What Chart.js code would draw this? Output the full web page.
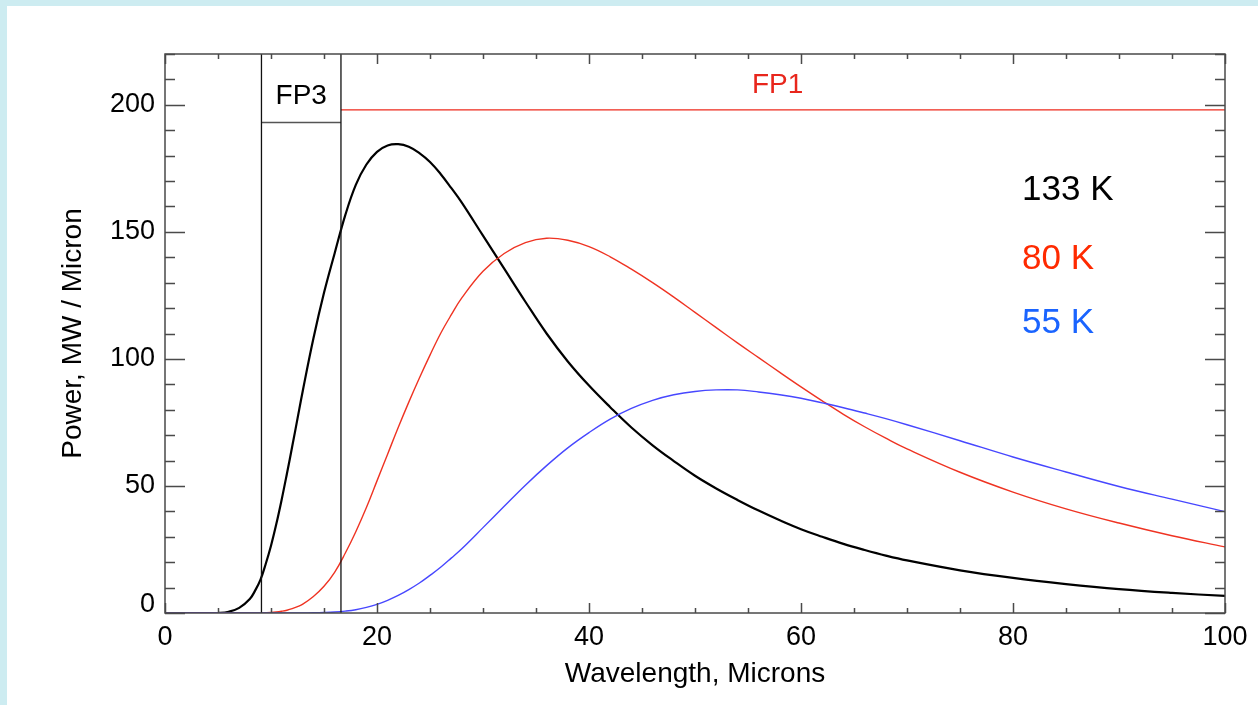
<!DOCTYPE html>
<html><head><meta charset="utf-8">
<script src="https://cdn.jsdelivr.net/npm/chart.js@4.4.1/dist/chart.umd.min.js"></script>
<style>
html,body{margin:0;padding:0;background:rgb(205,236,241);width:1258px;height:705px;overflow:hidden;}
#panel{position:absolute;left:7px;top:6px;width:1251px;height:699px;background:#fff;}
canvas{display:block;}
</style></head><body>
<div id="panel"><canvas id="c" width="1251" height="699"></canvas></div>
<script>
// Wavelength (microns) sample points
const wavelengths = [0,2,4,5,6,7,8,
  8.5,9,9.5,10,10.5,11,11.5,12,12.5,13,
  14,15,16,17,18,19,20,21,22,23,24,25,26,27,
  28,30,32,34,36,38,40,42,44,46,48,50,52,54,56,58,60,62,64,66,68,70,
  75,80,85,90,95,100];
// Power, MW / micron
const power133K = [0,0,0,0.05,0.5,2,5.5,
  8.8,13,19.3,26.5,35,44.5,54.8,65.5,76.5,87.5,
  108,126,141.5,156.5,168.5,176.5,181.5,184,184.5,183.5,181,177.5,172.8,167.3,
  161.5,148.5,135.5,122.5,110,99,89.5,81,73,66,59.8,54,49,44.5,40.3,36.5,33,30,27.2,24.8,22.6,20.7,
  16.8,13.8,11.4,9.4,7.9,6.7];
const power80K = [0,0,0,0,0,0,0,
  0.02,0.05,0.1,0.2,0.4,0.7,1.1,1.7,2.5,3.5,
  6.5,10.5,16,23.5,32,41.5,52,62.5,73,83,92.5,101.5,110,117.3,
  124,134.5,141.5,145.8,147.5,146.7,144.2,140.2,135.3,130,124.3,118.3,112.3,106.3,100.5,94.7,89,83.5,78.2,73.3,68.8,64.6,
  55.4,47.6,41,35.4,30.4,26];
const power55K = [0,0,0,0,0,0,0,
  0,0,0,0,0,0,0,0,0,0.02,
  0.08,0.2,0.4,0.75,1.3,2.2,3.4,5,6.9,9.2,11.8,14.8,18,21.6,
  25.3,33.6,42,50.3,58,65,71,76.3,80.5,83.7,85.9,87.2,87.8,87.8,87,85.9,84.5,82.7,80.8,78.7,76.5,74.1,
  67.8,61.4,55.5,49.8,44.8,39.9];
const seriesLabels = ['133 K','80 K','55 K'];
const xTickLabels = ['0','20','40','60','80','100'];
const yTickLabels = ['0','50','100','150','200'];
const xRange = [0,100];
const yRange = [0,220];
// Focal plane bands
const bandLabels = ['FP3','FP1'];
const fpEdges = [9.1,16.6];
const fp3Level = 193;
const fp1Level = 198;

const FONT = '"Liberation Sans", Arial, Helvetica, sans-serif';
const toPts = (ys) => wavelengths.map((x,i)=>({x:x,y:ys[i]}));

const overlay = {
  id:'overlay',
  afterDatasetsDraw(chart){
    const ctx = chart.ctx, xs = chart.scales.x, ys = chart.scales.y, a = chart.chartArea;
    ctx.save();
    ctx.strokeStyle = '#4a4a4a';
    ctx.lineWidth = 1.5;
    ctx.beginPath();
    for (let v = xRange[0]; v <= xRange[1]; v += 5) {
      const px = Math.round(xs.getPixelForValue(v)) + 0.5;
      const len = (v % 20 === 0) ? 10 : 5;
      ctx.moveTo(px, a.bottom); ctx.lineTo(px, a.bottom - len);
      ctx.moveTo(px, a.top); ctx.lineTo(px, a.top + len);
    }
    for (let v = yRange[0]; v <= yRange[1]; v += 10) {
      const py = Math.round(ys.getPixelForValue(v)) + 0.5;
      const len = (v % 50 === 0) ? 20 : 10;
      ctx.moveTo(a.left, py); ctx.lineTo(a.left + len, py);
      ctx.moveTo(a.right, py); ctx.lineTo(a.right - len, py);
    }
    ctx.stroke();
    ctx.strokeRect(a.left, a.top, a.right - a.left, a.bottom - a.top);

    ctx.textBaseline = 'middle';
    ctx.font = '28px ' + FONT;
    ctx.textAlign = 'center';
    ctx.fillStyle = '#000';
    ctx.fillText(bandLabels[0], xs.getPixelForValue((fpEdges[0]+fpEdges[1])/2), ys.getPixelForValue(203.5));
    ctx.fillStyle = '#e8261c';
    ctx.fillText(bandLabels[1], xs.getPixelForValue(57.8), ys.getPixelForValue(207.5));

    ctx.font = '35px ' + FONT;
    ctx.textAlign = 'left';
    const cols = ['#000000','#ff2a00','#1a64ff'];
    const lvls = [166.5, 139.1, 113.9];
    seriesLabels.forEach((t,i)=>{
      ctx.fillStyle = cols[i];
      ctx.fillText(t, xs.getPixelForValue(80.85), ys.getPixelForValue(lvls[i]));
    });
    ctx.restore();
  }
};

const curve = {pointRadius:0, tension:0.4};

new Chart(document.getElementById('c'), {
  type:'line',
  data:{
    datasets:[
      {label:'FP3 low', data:[{x:fpEdges[0],y:yRange[0]},{x:fpEdges[0],y:yRange[1]}], borderColor:'#111', borderWidth:1.3, pointRadius:0},
      {label:'FP3 high', data:[{x:fpEdges[1],y:yRange[0]},{x:fpEdges[1],y:yRange[1]}], borderColor:'#111', borderWidth:1.3, pointRadius:0},
      {label:'FP3 level', data:[{x:fpEdges[0],y:fp3Level},{x:fpEdges[1],y:fp3Level}], borderColor:'#555', borderWidth:1.5, pointRadius:0},
      {label:'FP1 level', data:[{x:fpEdges[1],y:fp1Level},{x:xRange[1],y:fp1Level}], borderColor:'#ee2a1c', borderWidth:1.3, pointRadius:0},
      Object.assign({label:seriesLabels[2], data:toPts(power55K), borderColor:'#4747ff', borderWidth:1.4}, curve),
      Object.assign({label:seriesLabels[1], data:toPts(power80K), borderColor:'#ef3322', borderWidth:1.4}, curve),
      Object.assign({label:seriesLabels[0], data:toPts(power133K), borderColor:'#000', borderWidth:2.2}, curve)
    ]
  },
  options:{
    responsive:false, animation:false, devicePixelRatio:1,
    layout:{padding:{left:0, top:48, right:33, bottom:0}},
    plugins:{legend:{display:false}, tooltip:{enabled:false}},
    scales:{
      x:{type:'linear', min:xRange[0], max:xRange[1],
        grid:{display:false, drawTicks:false}, border:{display:false},
        ticks:{stepSize:20, padding:8, color:'#000', font:{family:FONT, size:27}, maxRotation:0,
          callback:(v)=> xTickLabels.includes(String(v)) ? String(v) : ''},
        title:{display:true, text:'Wavelength, Microns', color:'#000', font:{family:FONT, size:28}, padding:{top:0,bottom:14}},
        afterFit:(s)=>{ s.height = 92; }
      },
      y:{type:'linear', min:yRange[0], max:yRange[1],
        grid:{display:false, drawTicks:false}, border:{display:false},
        ticks:{stepSize:50, includeBounds:false, padding:10, color:'#000',
          font:(c)=> (c.tick && c.tick.value === 0) ? {family:FONT, size:27, lineHeight:0.6} : {family:FONT, size:27},
          callback:(v)=> yTickLabels.includes(String(v)) ? (v === 0 ? [String(v), ''] : String(v)) : ''},
        title:{display:true, text:'Power, MW / Micron', color:'#000', font:{family:FONT, size:28}, padding:{top:49,bottom:0}},
        afterFit:(s)=>{ s.width = 158; }
      }
    }
  },
  plugins:[overlay]
});
</script>
</body></html>
